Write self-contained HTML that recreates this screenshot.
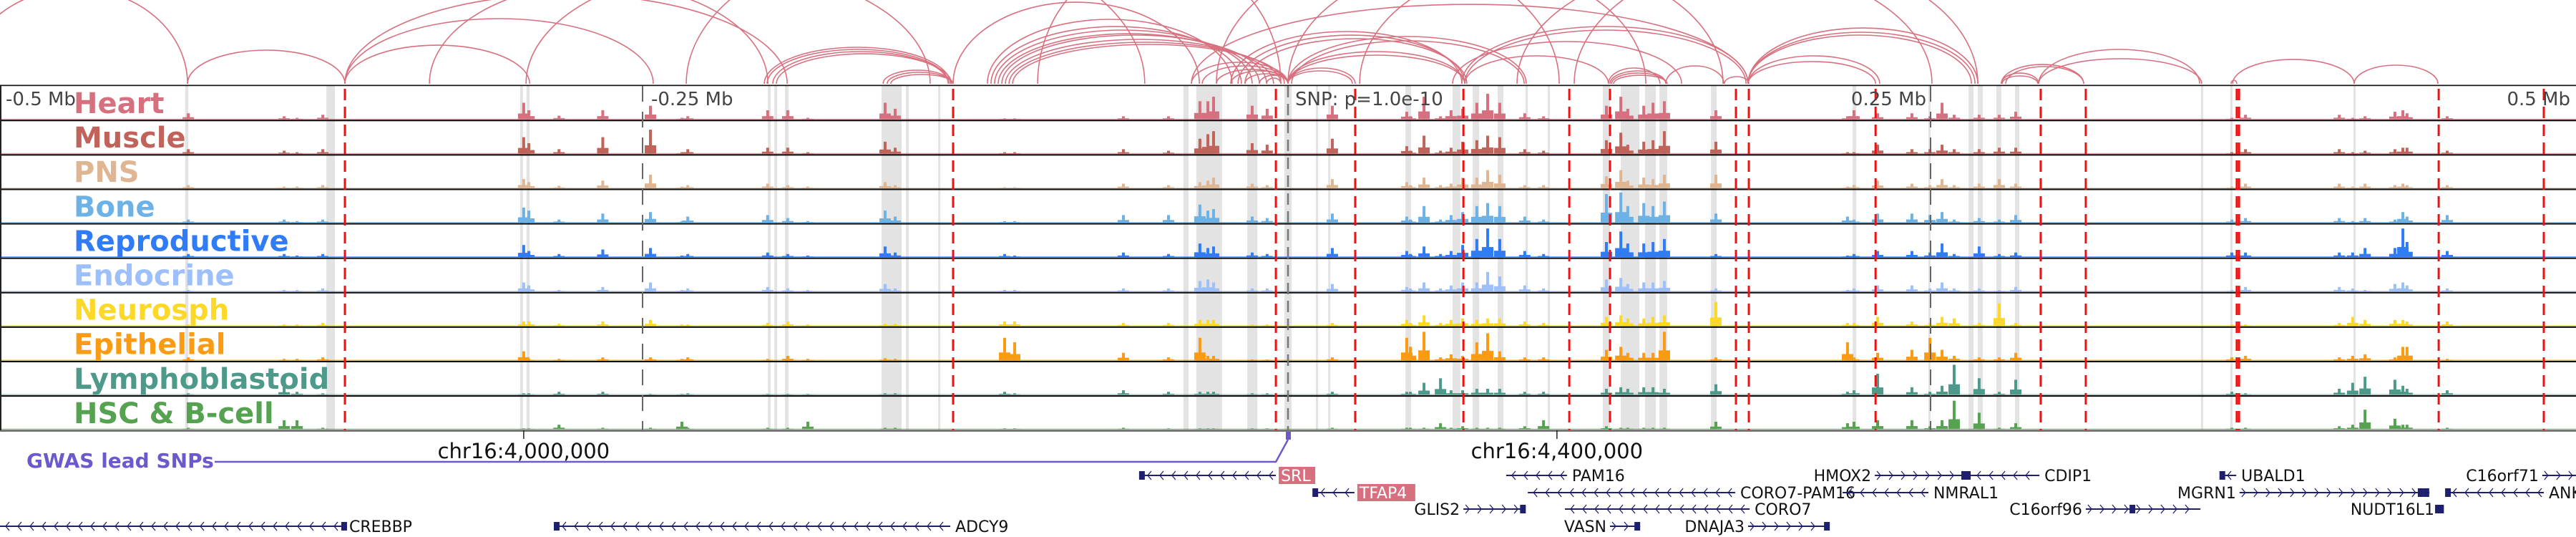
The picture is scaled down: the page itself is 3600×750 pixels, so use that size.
<!DOCTYPE html>
<html><head><meta charset="utf-8"><style>
html,body{margin:0;padding:0;background:#fff;width:3600px;height:750px;overflow:hidden}
svg{display:block}
text{font-family:"DejaVu Sans","Liberation Sans",sans-serif}
</style></head><body>
<svg id="fig" width="3600" height="750" viewBox="0 0 3600 750" xmlns="http://www.w3.org/2000/svg">
<g id="bands"></g>
<g id="signals"></g>
<g id="seps"></g>
<g id="vlines"></g>
<g id="arcs" fill="none" stroke="#d8707f" stroke-width="1.6"></g>
<g id="labels"></g>
<g id="axis"></g>
<g id="genes"></g>
</svg>
<script>
const NS="http://www.w3.org/2000/svg";
// ---- data ----
const trackNames=["Heart","Muscle","PNS","Bone","Reproductive","Endocrine","Neurosph","Epithelial","Lymphoblastoid","HSC & B-cell"];
const trackColors=["#d6707f","#c0635a","#dfb592","#6cb2e6","#2f7cf6","#9dc0fb","#fcd928","#fa9b13","#4e9a8a","#55a250"];
const baselineLevels=[.02,.02,.02,.02,.02,.02,.02,.02,.02,.02];
const peakKb=[-426.9,-389.7,-384.7,-374.7,-296.7,-294.7,-283,-266,-247.5,-235.3,-233,-202,-194.2,-186.4,-156.4,-152.5,-110,-106.1,-63.9,-46.4,-34.2,-31.1,-28.9,-13.9,-8.1,17.2,46.1,47.5,52.8,59.2,63.3,67.8,73.3,77.5,82.2,91.9,99.2,123.6,129.2,131.9,138.1,141.7,146.1,166.1,217.2,219.7,228.9,242.2,249.2,253.9,258.6,268.3,276.1,282.5,366.4,371.7,408.1,413.3,418.1,429.7,432.8,434.4,450];
const heartVals=[.2,.1,.05,.15,.55,.3,.12,.3,.45,.05,.1,.3,.3,.05,.55,.35,.03,.03,.1,.1,.6,.6,.75,.45,.35,.45,.25,.1,.75,.1,.3,.35,.55,.85,.55,.2,.1,.45,.75,.35,.45,.55,.6,.3,.1,.3,.2,.2,.1,.55,.15,.15,.15,.25,.05,.15,.15,.05,.1,.25,.3,.2,.1];
const muscleVals=[.15,.1,.05,.15,.55,.35,.15,.55,.8,.05,.15,.2,.2,.05,.4,.2,.05,.05,.15,.1,.5,.65,.75,.35,.3,.5,.25,.1,.6,.1,.2,.4,.45,.6,.55,.15,.1,.45,.7,.3,.4,.45,.75,.4,.05,.05,.3,.15,.15,.3,.15,.15,.2,.2,.05,.15,.15,.05,.1,.15,.2,.2,.1];
const pnsVals=[.1,.05,.05,.1,.3,.2,.08,.25,.45,.05,.1,.15,.1,.05,.2,.1,.03,.03,.15,.1,.2,.25,.35,.15,.1,.3,.2,.1,.35,.1,.15,.35,.35,.6,.45,.1,.1,.4,.6,.25,.35,.3,.45,.45,.05,.1,.25,.15,.1,.3,.1,.15,.3,.15,.05,.15,.15,.05,.15,.1,.15,.1,.1];
const boneVals=[.1,.1,.05,.1,.5,.4,.1,.3,.35,.05,.2,.25,.15,.05,.4,.2,.05,.05,.25,.25,.6,.4,.45,.2,.15,.3,.2,.1,.55,.1,.25,.35,.55,.65,.55,.2,.1,.95,1,.55,.65,.55,.7,.3,.2,.1,.3,.3,.25,.35,.1,.15,.1,.25,.1,.15,.15,.05,.15,.1,.35,.2,.25];
const reproVals=[.1,.1,.05,.1,.4,.2,.1,.25,.3,.05,.1,.15,.1,.05,.35,.15,.1,.05,.15,.1,.45,.3,.35,.15,.1,.3,.2,.1,.35,.1,.2,.4,.6,.95,.6,.2,.1,.5,.85,.45,.45,.5,.6,.1,.05,.1,.2,.2,.15,.45,.1,.35,.1,.15,.15,.15,.15,.15,.3,.3,.95,.5,.2];
const endoVals=[.05,.05,.05,.1,.3,.2,.05,.15,.3,.05,.1,.15,.1,.05,.25,.1,.05,.05,.1,.1,.35,.4,.3,.1,.1,.25,.15,.1,.3,.1,.2,.3,.3,.65,.5,.2,.1,.4,.45,.25,.3,.3,.35,.1,.05,.1,.2,.2,.1,.3,.1,.1,.05,.15,.05,.15,.15,.1,.05,.25,.3,.2,.1];
const neuroVals=[.05,.05,.05,.1,.15,.15,.07,.15,.2,.05,.05,.1,.15,.05,.07,.07,.15,.15,.1,.1,.2,.2,.2,.05,.05,.1,.2,.1,.35,.1,.2,.25,.2,.25,.25,.15,.1,.3,.35,.25,.25,.3,.35,.8,.1,.1,.3,.15,.1,.3,.25,.1,.75,.1,.05,.05,.1,.3,.2,.2,.2,.15,.15];
const epiVals=[.1,.05,.05,.1,.3,.05,.05,.1,.1,.05,.1,.05,.15,.05,.07,.05,.75,.6,.25,.1,.75,.15,.15,.03,.03,.1,.75,.45,.95,.1,.2,.15,.6,.9,.3,.1,.1,.35,.45,.25,.25,.25,.95,.1,.6,.1,.25,.35,.75,.35,.15,.1,.1,.25,.1,.15,.1,.15,.2,.1,.45,.45,.05];
const lymphVals=[.05,.25,.1,.05,.05,.05,.1,.1,.03,.03,.05,.03,.03,.03,.05,.05,.1,.05,.15,.1,.1,.1,.1,.05,.05,.1,.1,.1,.4,.55,.15,.15,.2,.2,.2,.1,.1,.2,.25,.2,.25,.25,.2,.35,.1,.15,.7,.25,.1,.3,1,.55,.1,.5,.1,.05,.2,.4,.6,.5,.3,.2,.15];
const hscVals=[.05,.3,.3,.05,.03,.03,.15,.05,.05,.25,.05,.05,.05,.25,.05,.05,.03,.03,.05,.03,.03,.03,.03,.03,.03,.05,.05,.05,.05,.2,.05,.1,.05,.05,.05,.1,.3,.1,.05,.05,.05,.05,.05,.25,.2,.25,.3,.3,.1,.3,.95,.55,.05,.2,.05,.05,.1,.15,.65,.35,.15,.15,.05];
const redLineKb=[-366.1,-130,-4.7,26.1,68.1,109.2,125,173.9,178.9,228.1,292.2,309.7,368.3,369.2,446.7,487.5];
const bandStartKb=[-428.1,-373.3,-298.1,-295.6,-201.9,-199.4,-195.3,-157.8,-148.3,-135.8,-40.6,-35.6,-15.8,-1.4,10.8,15.6,45.6,63.9,71.7,81.4,92.2,100.8,122.2,129.2,138.6,144.2,164.2,219.2,248.6,264.2,267.8,275,282.2,354.4,365.8,413.6];
const bandEndKb=[-426.9,-370,-297,-294.4,-200.8,-198.3,-193.9,-150,-147.2,-135,-38.6,-25.6,-11.9,1.4,11.7,16.4,47.8,66.9,74.2,83.6,93.1,101.7,125,136.4,142.8,147.2,166.4,220.6,249.4,266.1,269.7,276.9,283.9,355.3,366.7,414.4];
const arcStartKb=[-513.9,-427.2,-366.1,-366.1,-366.1,-295.8,-333.3,-233.6,-203.3,-202.2,-200,-198.6,-157.2,-155.6,-154.2,-130,-116.7,-115.3,-113.9,-112.5,-111.1,-109.7,-108.3,-106.9,-97.2,-37.5,-33.3,-27.8,-22.2,-16.7,-11.1,-8.3,-37.5,-22.2,-19.4,-16.7,0,1.4,0,0,0,0,68.6,67.5,68.6,63.9,125,125.6,126.4,124.4,146.7,169.4,178.6,178.6,178.6,178.6,178.6,111.1,276.9,277.2,276.9,278.6,291.4,291.4,366.7,413.9,366.1,0,27.8,88.9,-27.8];
const arcEndKb=[-427.2,-366.1,-246.4,-294.4,-194.4,-138.9,-201.9,-55.6,-131.1,-131.7,-131.9,-130.6,-130.6,-130.6,-130,-34.4,-21.7,-18.1,-13.9,-11.1,-8.3,-5.6,-2.8,-1.4,-2.8,0,0,0,0,0,0,-2.8,178.6,67.5,68.6,69.4,92.5,91.7,68.6,68.6,26.1,25,124.4,178.6,177.8,152.8,146.7,146.7,147.2,144.4,169.2,178.9,267.8,266.7,265.3,229.7,228.1,267.8,291.4,291.1,308.9,308.9,353.9,354.7,413.9,446.4,368.3,138.9,168.9,250,105.3];
const arcScore=[133,47,91,54,125,160,140,200,51,48,45,42,19,16,13,114,90,80,75,70,68,62,58,55,180,30,25,20,18,14,12,8,111,73,68,63,66,60,45,40,22,18,39,80,75,59,18,15,12,22,25,10,78,72,68,39,31,180,15,11,27,24,48,35,34,26,5,170,170,170,180];
const axisTickKb=[-250,250];
const geneNames=["CREBBP","ADCY9","SRL","TFAP4","GLIS2","PAM16","CORO7-PAM16","CORO7","VASN","DNAJA3","HMOX2","CDIP1","NMRAL1","C16orf96","UBALD1","MGRN1","NUDT16L1","C16orf71","ANKS3"];
const geneStartKb=[-500,-283.9,-56.7,10.6,68.1,84.7,93.1,107.5,125,178.6,227.8,265.3,215.3,309.7,362.5,369.4,446.4,486.9,450];
const geneEndKb=[-366.4,-131.1,-4.7,25.8,92.2,108.3,173.6,179.2,136.7,209.7,265.3,291.7,248.6,354.2,368.1,443.1,448.1,500,487.5];
const geneStrand=[-1,-1,-1,-1,1,-1,-1,-1,1,1,1,-1,-1,1,-1,1,1,1,-1];
const geneRow=[3,3,0,1,2,0,1,2,3,3,0,0,1,2,0,1,2,0,1];
const geneExonKb=[[-366.4],[-283.9],[-56.7],[10.6],[91.2],[],[],[],[135.6],[209.2],[262.5,263.9],[],[],[327.8],[362.7],[439.7,441.9],[446.4,447.6],[],[450.3]];
const geneHighlight=["SRL","TFAP4"];

// ---- scales ----
const X=kb=>1800+kb*3.6;
const TOP=120, TH=48.1, BOT=TOP+TH*10;
const trackTop=i=>TOP+i*TH;
const yVal=(i,v)=>trackTop(i)+TH-1.5-Math.min(v,1)*42;
const trackVals=[heartVals,muscleVals,pnsVals,boneVals,reproVals,endoVals,neuroVals,epiVals,lymphVals,hscVals];
function mk(tag,attrs,parent){const e=document.createElementNS(NS,tag);for(const k in attrs)e.setAttribute(k,attrs[k]);parent.appendChild(e);return e;}

// bands
const gB=document.getElementById('bands');
bandStartKb.forEach((s,i)=>{const x0=X(s),x1=Math.max(X(bandEndKb[i]),x0+3);
 const r=mk('rect',{x:x0,y:TOP,width:x1-x0,height:BOT-TOP,fill:'#e3e3e3'},gB);
 
 });

// signals
const gS=document.getElementById('signals');
trackVals.forEach((vals,t)=>{
 const g=mk('g',{fill:trackColors[t]},gS);
 
 
 const base=trackTop(t)+TH-1.5;
 mk('rect',{x:0,y:yVal(t,baselineLevels[t]),width:3600,height:base-yVal(t,baselineLevels[t]),opacity:0.8},g);
 peakKb.forEach((k,i)=>{const v=vals[i]??0;const cx=X(k);
  const sh=v*0.35, ys=yVal(t,sh);
  mk('rect',{x:cx-8,y:ys,width:16,height:base-ys},g);
  const y=yVal(t,v);
  const b=mk('rect',{x:cx-2,y:y,width:4,height:base-y},g);
  
  });
});

// separators
const gP=document.getElementById('seps');
mk('rect',{x:0,y:TOP-2,width:3600,height:2,fill:'#888'},gP);
for(let i=1;i<10;i++){mk('rect',{x:0,y:trackTop(i)-1,width:3600,height:2.2,fill:'#111'},gP);}
mk('rect',{x:0,y:BOT-1,width:3600,height:3,fill:'#777'},gP);
mk('rect',{x:0,y:TOP-1,width:3600,height:1.2,fill:'#111'},gP);
mk('rect',{x:0,y:TOP,width:2,height:BOT-TOP,fill:'#222'},gP);

// marker lines
const gV=document.getElementById('vlines');
axisTickKb.forEach(k=>{const l=mk('line',{x1:X(k)-2,x2:X(k)-2,y1:TOP,y2:BOT,stroke:'#666','stroke-width':2,'stroke-dasharray':'22,14'},gV);
 
 });
const snp=mk('line',{x1:X(0),x2:X(0),y1:TOP,y2:BOT,stroke:'#777','stroke-width':2.5,'stroke-dasharray':'16,9'},gV);


redLineKb.forEach(k=>{const l=mk('line',{x1:X(k),x2:X(k),y1:TOP+4,y2:BOT,stroke:'#ee1111','stroke-width':3,'stroke-dasharray':'16,9'},gV);
 
 });

// arcs
const gA=document.getElementById('arcs');
const ABASE=117;
arcStartKb.forEach((s,i)=>{const a=X(s),b=X(arcEndKb[i]),rx=(b-a)/2,ry=arcScore[i];
 const p=mk('path',{d:`M${a},${ABASE} A${rx},${ry} 0 0 1 ${b},${ABASE}`},gA);
 
 });

// labels
const gL=document.getElementById('labels');
trackNames.forEach((n,i)=>{const t=mk('text',{x:103,y:trackTop(i)+38,fill:trackColors[i],'font-size':40,'font-weight':'bold'},gL);t.textContent=n;
 
 });
const axisLabels=[["-0.5 Mb",8,'start'],["-0.25 Mb",910,'start'],["SNP: p=1.0e-10",1810,'start'],["0.25 Mb",2692,'end'],["0.5 Mb",3592,'end']];
axisLabels.forEach(([s,x,a])=>{const t=mk('text',{x:x,y:147,fill:'#444','font-size':26,'text-anchor':a},gL);t.textContent=s;
 
 });

// coordinate axis
const gX=document.getElementById('axis');
[[4000000,-296.7],[4400000,104.4]].forEach(([bp,k])=>{const x=X(k);
 mk('line',{x1:x,x2:x,y1:BOT,y2:BOT+12,stroke:'#222','stroke-width':1.5},gX);
 const t=mk('text',{x:x,y:640,'font-size':29,'text-anchor':'middle',fill:'#111'},gX);
 t.textContent='chr16:'+bp.toLocaleString('en-US');
 
 });
mk('rect',{x:X(0)-3,y:BOT+2,width:7,height:11,fill:'#6a5acd'},gX);
mk('path',{d:`M${X(0)},${BOT+13} L${X(-4.7)},645 L300,645`,fill:'none',stroke:'#6a5acd','stroke-width':2.5},gX);
const gw=mk('text',{x:37,y:653,'font-size':28,'font-weight':'bold',fill:'#6a5acd'},gX);gw.textContent='GWAS lead SNPs';



// genes
const gG=document.getElementById('genes');
const rowY=[664,688,711,735];
geneNames.forEach((n,i)=>{const a=X(geneStartKb[i]),b=Math.min(X(geneEndKb[i]),3600),y=rowY[geneRow[i]],col='#1f1f70';
 const g=mk('g',{},gG);
 
 
 mk('line',{x1:a,x2:b,y1:y,y2:y,stroke:col,'stroke-width':2},g);
 const d=geneStrand[i];
 for(let x=a+8;x<b-4;x+=17){mk('path',{d:d<0?`M${x+5},${y-6} L${x},${y} L${x+5},${y+6}`:`M${x-5},${y-6} L${x},${y} L${x-5},${y+6}`,fill:'none',stroke:col,'stroke-width':1.3},g);}
 geneExonKb[i].forEach(k=>mk('rect',{x:X(k)-4,y:y-6,width:8,height:12,fill:col},g));
 const right=geneStrand[i]<0;
 const tx=right?b+5:a-5;
 if(geneHighlight.includes(n)){const w=n.length*15+6;mk('rect',{x:tx-1,y:y-12,width:w,height:24,fill:'#d6707f'},g);}
 const t=mk('text',{x:right?tx+2:tx,y:y+8,'font-size':22,'text-anchor':right?'start':'end',fill:geneHighlight.includes(n)?'#fff':'#111'},g);
 t.textContent=n;});
</script>
</body></html>
